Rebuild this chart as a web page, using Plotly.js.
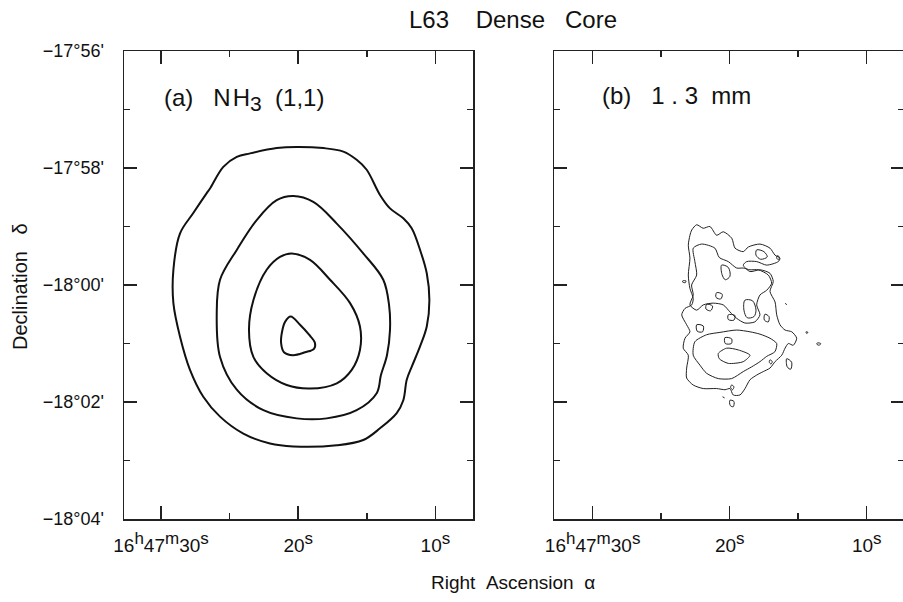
<!DOCTYPE html>
<html>
<head>
<meta charset="utf-8">
<script src="https://cdn.plot.ly/plotly-3.0.1.min.js"></script>
<style>
html,body{margin:0;padding:0;overflow:hidden;background:#fff;}
#chart{width:905px;height:602px;}
</style>
</head>
<body>
<div id="chart"></div>
<script>
// ---------- DATA (RA seconds after 16h47m, Dec arcmin offset from -18°00') ----------
const raTickVals = [30, 20, 10];
const raTickText = [
  '16<sup><span style="font-size:17px">h</span></sup>47<sup><span style="font-size:17px">m</span></sup>30<sup><span style="font-size:17px">s</span></sup>',
  '20<sup><span style="font-size:17px">s</span></sup>',
  '10<sup><span style="font-size:17px">s</span></sup>'
];
const raMinorVals = [25, 15];
const decTickVals = [4, 2, 0, -2, -4];
const decTickText = ["\u221217\u00b056'", "\u221217\u00b058'", "\u221218\u00b000'", "\u221218\u00b002'", "\u221218\u00b004'"];
const decMinorVals = [3, 1, -1, -3];

// (a) NH3 (1,1) contours, outer to inner
const nh3Level1X = [26.43,25.46,24.48,23.51,21.57,20.11,18.17,16.71,15.74,15.01,14.04,13.31,12.34,11.73,11.12,10.63,10.44,10.63,11.12,11.73,12.09,12.34,12.82,14.04,15.26,17.19,20.36,22.06,24.00,25.70,26.92,27.89,28.62,29.10,29.10,28.62,27.65,26.67];
const nh3Level1Y = [1.65,2.02,2.19,2.25,2.34,2.36,2.34,2.28,2.14,1.97,1.54,1.31,1.14,0.97,0.60,0.20,-0.26,-0.71,-1.05,-1.40,-1.62,-1.97,-2.19,-2.45,-2.65,-2.74,-2.76,-2.71,-2.54,-2.25,-1.91,-1.45,-0.88,-0.31,0.26,0.88,1.23,1.57];
const nh3Level2X = [20.36,18.90,17.19,15.26,13.80,13.38,13.31,13.53,13.97,14.28,15.74,17.92,20.11,22.54,24.48,25.70,25.94,25.70,24.48,23.03,21.57];
const nh3Level2Y = [1.52,1.42,1.05,0.54,0.09,-0.34,-0.77,-1.20,-1.54,-1.85,-2.14,-2.28,-2.28,-2.14,-1.79,-1.23,-0.48,0.09,0.60,1.11,1.45];
const nh3Level3X = [20.47,19.14,17.68,16.22,15.50,15.50,16.10,17.19,19.14,20.84,22.30,23.27,23.59,23.27,22.30,21.33];
const nh3Level3Y = [0.54,0.43,0.09,-0.31,-0.71,-1.11,-1.45,-1.68,-1.77,-1.71,-1.51,-1.23,-0.77,-0.26,0.26,0.48];
const nh3Level4X = [20.55,19.87,19.21,18.78,18.85,19.50,20.38,21.04,21.25,21.18,20.96];
const nh3Level4Y = [-0.54,-0.68,-0.85,-0.99,-1.09,-1.15,-1.20,-1.15,-0.99,-0.80,-0.63];

// (b) 1.3 mm continuum contours
const mmOuterX = [22.77,22.41,21.93,21.44,20.95,20.47,19.85,19.61,19.01,18.64,17.79,17.06,16.69,16.33,16.45,17.30,18.03,18.76,19.01,18.52,17.79,17.06,16.82,17.06,16.69,16.57,16.33,15.96,15.47,15.11,15.36,15.72,15.96,16.20,16.69,17.06,17.55,18.03,18.52,18.88,19.25,19.74,19.98,20.34,20.95,21.93,22.66,23.14,23.14,23.02,23.39,23.26,22.90,23.14,23.50,23.26,22.77,22.66,22.90,23.02,22.90,23.02,22.90];
const mmOuterY = [0.94,1.03,0.97,1.00,0.85,0.91,0.80,0.63,0.57,0.65,0.70,0.63,0.51,0.46,0.40,0.34,0.40,0.40,0.34,0.23,0.26,0.20,0.06,-0.11,-0.29,-0.51,-0.68,-0.77,-0.80,-0.91,-1.03,-1.00,-1.08,-1.20,-1.31,-1.42,-1.48,-1.54,-1.62,-1.77,-1.88,-1.88,-1.77,-1.79,-1.77,-1.77,-1.71,-1.59,-1.42,-1.20,-1.08,-0.91,-0.80,-0.68,-0.51,-0.40,-0.34,-0.23,-0.06,0.17,0.46,0.68,0.85];
const mmUpperBandX = [22.66,22.05,21.08,20.76,20.10,19.49,19.01,18.52,17.91,17.18,16.94,17.30,17.79,18.03,17.79,18.16,18.89,19.49,19.98,20.47,21.20,21.93,22.41,22.90,22.66,22.78,22.41,22.54];
const mmUpperBandY = [0.63,0.70,0.63,0.47,0.40,0.29,0.29,0.26,0.26,0.17,0.03,-0.09,-0.17,-0.34,-0.51,-0.63,-0.65,-0.57,-0.46,-0.34,-0.31,-0.34,-0.43,-0.34,-0.17,0.00,0.17,0.40];
const mmLowerBandX = [22.54,21.68,20.71,19.49,18.52,17.79,17.06,16.57,16.70,17.30,17.79,18.40,19.01,19.86,20.83,21.68,22.17,22.66];
const mmLowerBandY = [-0.97,-0.85,-0.81,-0.77,-0.80,-0.84,-0.91,-1.00,-1.14,-1.22,-1.31,-1.40,-1.48,-1.60,-1.60,-1.51,-1.37,-1.20];
const mmPeakX = [20.83,20.22,19.37,18.52,19.01,20.10,20.76];
const mmPeakY = [-1.17,-1.08,-1.11,-1.20,-1.31,-1.34,-1.26];
const mmSmallLoopsX = [
  [20.59,20.10,19.98,20.32,20.56],
  [18.03,17.50,17.26,17.74,18.08],
  [16.53,16.38,16.43,16.57],
  [20.95,20.54,20.66,21.00],
  [21.68,21.25,21.39,21.73],
  [18.89,18.33,18.08,18.23,18.72,18.96],
  [20.10,19.62,19.69,20.10],
  [17.43,17.13,17.18,17.47],
  [22.41,21.93,21.98,22.37],
  [20.35,19.86,19.88,20.32],
  [15.84,15.48,15.55,15.80],
  [19.86,19.69,19.79,19.93],
  [19.98,19.69,19.74,19.96],
  [17.06,16.89,16.99,17.11],
  [23.43,23.19,23.24,23.43],
  [14.43,14.29,14.38],
  [13.60,13.36,13.46,13.65],
  [15.94,15.84],
  [20.52,20.37]
];
const mmSmallLoopsY = [
  [0.34,0.30,0.15,0.09,0.18],
  [0.60,0.57,0.48,0.44,0.51],
  [0.50,0.48,0.43,0.46],
  [-0.13,-0.16,-0.24,-0.21],
  [-0.33,-0.36,-0.44,-0.41],
  [-0.26,-0.27,-0.43,-0.54,-0.56,-0.43],
  [-0.51,-0.52,-0.60,-0.59],
  [-0.50,-0.54,-0.63,-0.60],
  [-0.68,-0.70,-0.80,-0.79],
  [-0.90,-0.92,-1.00,-1.00],
  [-1.26,-1.32,-1.44,-1.40],
  [-1.71,-1.74,-1.79,-1.75],
  [-1.97,-1.99,-2.08,-2.06],
  [-1.28,-1.31,-1.35,-1.32],
  [0.07,0.07,0.04,0.05],
  [-0.80,-0.81,-0.83],
  [-0.99,-1.00,-1.03,-1.01],
  [-0.31,-0.34],
  [-1.91,-1.93]
];

// ---------- BUILD ----------
function closed(a){ return a.length > 2 ? a.concat([a[0]]) : a.slice(); }
const traces = [];
function addLoop(xs, ys, xa, ya, width, color, smooth){
  traces.push({
    type:'scatter', mode:'lines', x: closed(xs), y: closed(ys),
    xaxis: xa, yaxis: ya, hoverinfo:'skip',
    line:{color: color, width: width, shape:'spline', smoothing: smooth}
  });
}
[[nh3Level1X,nh3Level1Y],[nh3Level2X,nh3Level2Y],[nh3Level3X,nh3Level3Y],[nh3Level4X,nh3Level4Y]]
  .forEach(p => addLoop(p[0], p[1], 'x', 'y', 2, '#111', 1.0));
[[mmOuterX,mmOuterY],[mmUpperBandX,mmUpperBandY],[mmLowerBandX,mmLowerBandY],[mmPeakX,mmPeakY]]
  .forEach(p => addLoop(p[0], p[1], 'x2', 'y2', 1, '#222', 0.7));
mmSmallLoopsX.forEach((xs, i) => addLoop(xs, mmSmallLoopsY[i], 'x2', 'y2', 1, '#222', 0.9));

const FONT = '"Liberation Sans", Arial, Helvetica, sans-serif';
const axisCommon = {
  showline:true, linecolor:'#222', linewidth:1.5, mirror:'ticks',
  ticks:'inside', ticklen:13, tickwidth:1.5, tickcolor:'#222',
  showgrid:false, zeroline:false, fixedrange:true,
  tickfont:{family:FONT, size:18, color:'#111'}
};
function xAxis(domain, range){
  return Object.assign({}, axisCommon, {
    domain: domain, range: range, tickmode:'array', tickvals: raTickVals, ticktext: raTickText,
    ticklabelstandoff: 9, tickfont:{family:FONT, size:19, color:'#111'},
    minor:{tickmode:'array', tickvals: raMinorVals, ticks:'inside', ticklen:6, tickwidth:1.5, tickcolor:'#222', showgrid:false}
  });
}
function yAxis(anchor, showLabels){
  return Object.assign({}, axisCommon, {
    anchor: anchor, range:[-4,4], tickmode:'array', tickvals: decTickVals, ticktext: decTickText,
    showticklabels: showLabels, ticklabelstandoff: 15,
    minor:{tickmode:'array', tickvals: decMinorVals, ticks:'inside', ticklen:6, tickwidth:1.5, tickcolor:'#222', showgrid:false}
  });
}

const NB = '\u00a0';
const layout = {
  width:905, height:602,
  margin:{l:124, r:1, t:51, b:83, pad:0},
  paper_bgcolor:'#fff', plot_bgcolor:'#fff',
  showlegend:false,
  font:{family:FONT, color:'#111'},
  title:{text:'L63' + NB.repeat(4) + 'Dense' + NB.repeat(3) + 'Core', x:513/905, xanchor:'center', y:1-20/602, yanchor:'middle',
         font:{family:FONT, size:24, color:'#111'}},
  xaxis: Object.assign(xAxis([0, 349/780], [32.70, 7.26]), {anchor:'y'}),
  yaxis: yAxis('x', true),
  xaxis2: Object.assign(xAxis([430/780, 1], [32.82, 7.28]), {anchor:'y2'}),
  yaxis2: yAxis('x2', false),
  annotations:[
    {text:'(a)' + NB.repeat(3) + 'N' + '\u200a' + 'H<sub><span style="font-size:21px">3</span></sub>' + NB.repeat(2) + '(1,1)',
     xref:'x domain', yref:'y domain', x:(162-124)/349, y:(519-100)/468,
     xanchor:'left', yanchor:'middle', showarrow:false, font:{family:FONT, size:24, color:'#111'}},
    {text:'(b)' + NB.repeat(3) + '1' + NB + '.' + NB + '3' + NB.repeat(2) + 'mm', xref:'x2 domain', yref:'y2 domain', x:(600-554)/350, y:(519-95)/468,
     xanchor:'left', yanchor:'middle', showarrow:false, font:{family:FONT, size:24, color:'#111'}},
    {text:'Right' + NB.repeat(2) + 'Ascension' + NB.repeat(2) + '\u03b1', xref:'paper', yref:'paper', x:(513-124)/780, y:(519-582)/468,
     xanchor:'center', yanchor:'middle', showarrow:false, font:{family:FONT, size:19, color:'#111'}},
    {text:'Declination' + NB.repeat(3) + '\u03b4', xref:'paper', yref:'paper', x:(20-124)/780, y:(519-287)/468, textangle:-90,
     xanchor:'center', yanchor:'middle', showarrow:false, font:{family:FONT, size:20, color:'#111'}}
  ]
};

Plotly.newPlot('chart', traces, layout, {staticPlot:true, displayModeBar:false});
</script>
</body>
</html>
